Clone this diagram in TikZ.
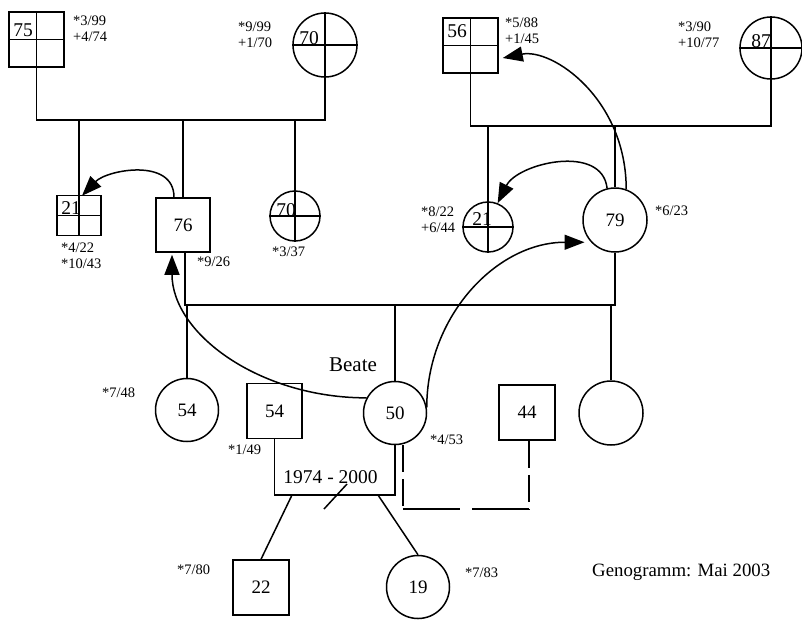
\documentclass[tikz,border=0pt]{standalone}
\usepackage{fontspec}
\setmainfont{Liberation Serif}
\usetikzlibrary{arrows.meta,calc}
\begin{document}
\begin{tikzpicture}[x=1pt,y=-1pt,
  ln/.style={line width=1.5pt},
  sq/.style={draw,line width=1.5pt,rectangle,inner sep=0pt,minimum width=#1,minimum height=#1,font=\fontsize{19}{22}\selectfont},
  ci/.style={draw,line width=1.5pt,circle,inner sep=0pt,minimum size=#1,font=\fontsize{19}{22}\selectfont},
  ann/.style={inner sep=0pt,anchor=west,align=left,font=\fontsize{14.5}{16}\selectfont},
  qn/.style={inner sep=0pt,font=\fontsize{19.5}{22}\selectfont},
  lbl/.style={inner sep=0pt,font=\fontsize{#1}{#1}\selectfont},
  rel/.style={line width=1.5pt,-{Triangle[length=20pt,width=15pt]}},
  dashv/.style={line width=1.5pt,dash pattern=on 27pt off 7pt},
  dashh/.style={line width=1.5pt,dash pattern=on 57pt off 12pt}]
\useasboundingbox (0,0) rectangle (802,619);

% ---------- grandparents left ----------
\node[sq=55] (sq75) at (36.5,39.5) {};
\node[ci=64] (c70t) at (325,45) {};
\node[qn] (n75) at (23,30) {75};
\node[qn] (n70t) at (309,38) {70};
\node[ann] (a75) at (73,29) {*3/99\\+4/74};
\node[ann] (a70t) at (238,35) {*9/99\\+1/70};

% ---------- grandparents right ----------
\node[sq=55] (sq56) at (470.5,45.5) {};
\node[ci=62] (c87) at (771,48) {};
\node[qn] (n56) at (457,31) {56};
\node[qn] (n87) at (761,41) {87};
\node[ann] (a56) at (505,31) {*5/88\\+1/45};
\node[ann] (a87) at (678,34.5) {*3/90\\+10/77};

% ---------- second generation ----------
\node[sq=40,minimum width=44] (sq21l) at (79,215.5) {};
\node[qn] (n21l) at (71,208.5) {21};
\node[ann] (a21l) at (61,256) {*4/22\\*10/43};
\node[sq=54] (sq76) at (183,225) {76};
\node[ann] (a76) at (197,262) {*9/26};
\node[ci=50] (c70m) at (295,216) {};
\node[qn] (n70m) at (286,210) {70};
\node[ann] (a70m) at (272,252) {*3/37};
\node[ci=50] (c21r) at (488,227) {};
\node[qn] (n21r) at (482,219) {21};
\node[ann] (a21r) at (421,220) {*8/22\\+6/44};
\node[ci=64] (c79) at (615,220) {79};
\node[ann] (a79) at (655,211) {*6/23};

% ---------- third generation ----------
\node[ci=63] (c54l) at (187,410) {54};
\node[ann] (a54l) at (102,393) {*7/48};
\node[sq=55] (sq54) at (274.5,411) {54};
\node[ann] (a54) at (228,450) {*1/49};
\node[ci=63] (c50) at (395,413) {50};
\node[lbl=21] (beate) at (353,364.5) {Beate};
\node[ann] (a50) at (430,440) {*4/53};
\node[sq=55,minimum width=56] (sq44) at (527,412.5) {44};
\node[ci=64] (cR) at (611,413) {};
\node[lbl=19.5] (ehe) at (330.5,477) {1974 - 2000};

% ---------- fourth generation ----------
\node[sq=55,minimum width=56] (sq22) at (261,587.5) {22};
\node[ann] (a22) at (177,570) {*7/80};
\node[ci=63] (c19) at (418,587) {19};
\node[ann] (a19) at (465,573) {*7/83};
\node[lbl=18.8,anchor=west] (title) at (592,572) {Genogramm: Mai 2003};

% ---------- quadrant crosses ----------
\draw[ln] (sq75.west) -- (sq75.east);
\draw[ln] (c70t.west) -- (c70t.east);
\draw[ln] (sq56.west) -- (sq56.east);
\draw[ln] (c87.west) -- (c87.east);
\draw[ln] (sq21l.west) -- (sq21l.east);
\draw[ln] (c70m.west) -- (c70m.east);
\draw[ln] (c21r.west) -- (c21r.east);

% ---------- family lines ----------
\coordinate (f1) at (0,120);
\coordinate (f2) at (0,126);
\coordinate (f3) at (0,305);
\coordinate (f4) at (0,495);
\draw[ln] (sq75.north) -- (sq75.north |- f1) -- (c70t.north |- f1) -- (c70t.north);
\draw[ln] (sq21l.north |- f1) -- (sq21l.south);
\draw[ln] (sq76.north |- f1) -- (sq76.north);
\draw[ln] (c70m.north |- f1) -- (c70m.south);

\draw[ln] (sq56.north) -- (sq56.north |- f2) -- (c87.north |- f2) -- (c87.north);
\draw[ln] (c21r.north |- f2) -- (c21r.south);
\draw[ln] (c79.north |- f2) -- (c79.north);

\draw[ln] ([xshift=2pt]sq76.south) -- ([xshift=2pt]sq76.south |- f3) -- (c79.south |- f3) -- (c79.south);
\draw[ln] (c54l.north) -- (c54l.north |- f3);
\draw[ln] (c50.north |- f3) -- (c50.north);
\draw[ln] (cR.north |- f3) -- (cR.north);

\draw[ln] (sq54.south) -- (sq54.south |- f4) -- (c50.south |- f4) -- (c50.south);
\coordinate (d1) at (347,484);
\coordinate (d2) at (324,509);
\draw[ln] (d1) -- (d2);
\coordinate (k1) at (292,495);
\coordinate (k2) at (378,495);
\draw[ln] (k1) -- (sq22.north);
\draw[ln] (k2) -- (c19.north);

% ---------- dashed partnership ----------
\coordinate (dA) at (403,445);
\coordinate (dB) at (403,509);
\coordinate (dC) at (529,509);
\draw[dashv] (dA) -- (dB);
\draw[dashh] (dB) -- (dC);
\draw[dashv] ([xshift=2pt]sq44.south) -- (dC);

% ---------- relationship arrows ----------
\draw[rel] ([xshift=-9pt]sq76.north) .. controls +(0,-40) and +(25,-26) .. ([xshift=3pt,yshift=-1pt]sq21l.north);
\draw[rel] (c79.104) .. controls +(-5,-45) and +(20,-40) .. (c21r.68);
\draw[rel] (c79.70) .. controls +(0,-90) and +(50,-10) .. ([xshift=4pt,yshift=-12.5pt]sq56.east);
\draw[rel] (c50.152) .. controls +(-107,0) and +(0,79) .. ([xshift=-11pt,yshift=-2pt]sq76.south);
\draw[rel] (c50.10) .. controls +(0,-91) and +(-88,0) .. ([shift={(-4pt,-3pt)}]c79.216);
\end{tikzpicture}
\end{document}
